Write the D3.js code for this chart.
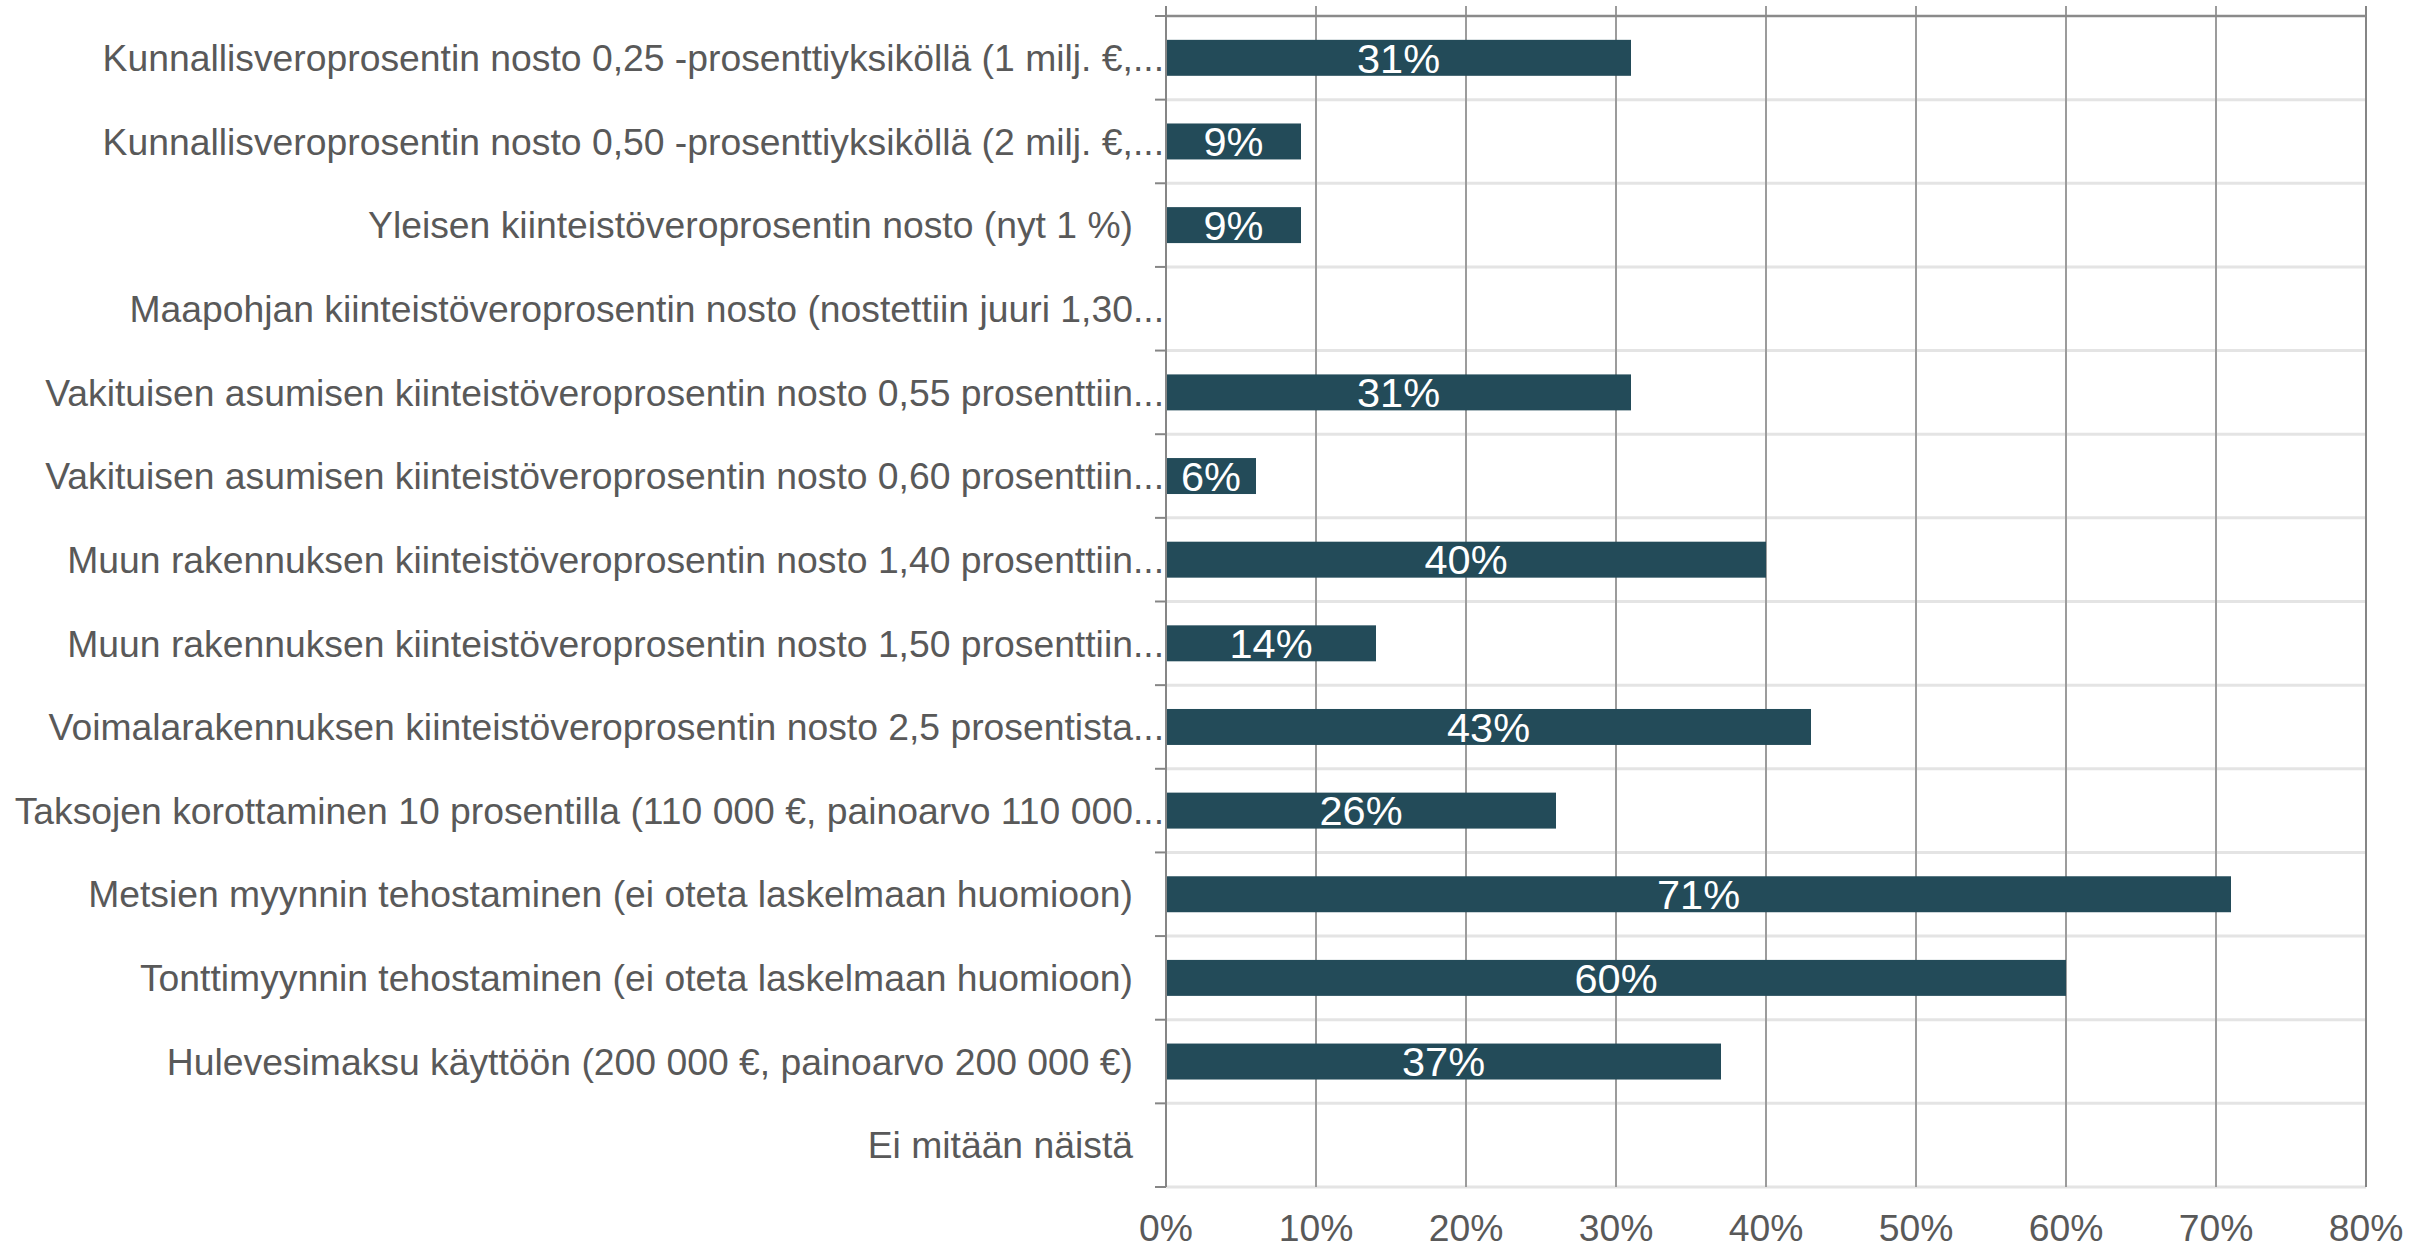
<!DOCTYPE html>
<html>
<head>
<meta charset="utf-8">
<script src="https://cdn.jsdelivr.net/npm/d3@7"></script>
<style>
  html, body { margin: 0; padding: 0; background: #ffffff; }
  svg { display: block; }
</style>
</head>
<body>
<script>
const categories = [
  "Kunnallisveroprosentin nosto 0,25 -prosenttiyksiköllä (1 milj. €,...",
  "Kunnallisveroprosentin nosto 0,50 -prosenttiyksiköllä (2 milj. €,...",
  "Yleisen kiinteistöveroprosentin nosto (nyt 1 %)",
  "Maapohjan kiinteistöveroprosentin nosto (nostettiin juuri 1,30...",
  "Vakituisen asumisen kiinteistöveroprosentin nosto 0,55 prosenttiin...",
  "Vakituisen asumisen kiinteistöveroprosentin nosto 0,60 prosenttiin...",
  "Muun rakennuksen kiinteistöveroprosentin nosto 1,40 prosenttiin...",
  "Muun rakennuksen kiinteistöveroprosentin nosto 1,50 prosenttiin...",
  "Voimalarakennuksen kiinteistöveroprosentin nosto 2,5 prosentista...",
  "Taksojen korottaminen 10 prosentilla (110 000 €, painoarvo 110 000...",
  "Metsien myynnin tehostaminen (ei oteta laskelmaan huomioon)",
  "Tonttimyynnin tehostaminen (ei oteta laskelmaan huomioon)",
  "Hulevesimaksu käyttöön (200 000 €, painoarvo 200 000 €)",
  "Ei mitään näistä"
];
const values = [31, 9, 9, 0, 31, 6, 40, 14, 43, 26, 71, 60, 37, 0];
const tickValues = [0, 10, 20, 30, 40, 50, 60, 70, 80];
const tickLabels = ["0%", "10%", "20%", "30%", "40%", "50%", "60%", "70%", "80%"];

const W = 2435, H = 1248;
const pL = 1166, pR = 2366, pT = 16, pB = 1187;
const FONT = "'Liberation Sans', Arial, sans-serif";
const TEXT = "#595959";

const svg = d3.select("body").append("svg")
  .attr("width", W).attr("height", H)
  .style("font-family", FONT);

const x = d3.scaleLinear().domain([0, 80]).range([pL, pR]);
const y = d3.scaleBand().domain(d3.range(categories.length))
  .range([pT, pB]).paddingInner(0.57).paddingOuter(0.285);
const step = y.step();

// horizontal light gridlines (category boundaries)
svg.append("g").selectAll("line")
  .data(d3.range(1, categories.length + 1))
  .join("line")
  .attr("x1", pL).attr("x2", pR)
  .attr("y1", i => pT + i * step).attr("y2", i => pT + i * step)
  .attr("stroke", "#e4e4e4").attr("stroke-width", 3);

// vertical gridlines
svg.append("g").selectAll("line")
  .data(tickValues.slice(1))
  .join("line")
  .attr("x1", d => x(d)).attr("x2", d => x(d))
  .attr("y1", pT - 10).attr("y2", pB)
  .attr("stroke", d => d === 80 ? "#868686" : "#9c9c9c").attr("stroke-width", 2);

// top line
svg.append("line")
  .attr("x1", pL).attr("x2", pR).attr("y1", pT).attr("y2", pT)
  .attr("stroke", "#8a8a8a").attr("stroke-width", 2.5);

// bars
svg.append("g").selectAll("rect")
  .data(values)
  .join("rect")
  .attr("x", x(0))
  .attr("y", (d, i) => y(i))
  .attr("width", d => x(d) - x(0))
  .attr("height", y.bandwidth())
  .attr("fill", "#234b59");

// category axis line and ticks
svg.append("line")
  .attr("x1", pL).attr("x2", pL).attr("y1", pT - 10).attr("y2", pB)
  .attr("stroke", "#868686").attr("stroke-width", 2);
svg.append("g").selectAll("line")
  .data(d3.range(0, categories.length + 1))
  .join("line")
  .attr("x1", pL - 11).attr("x2", pL)
  .attr("y1", i => pT + i * step).attr("y2", i => pT + i * step)
  .attr("stroke", "#868686").attr("stroke-width", 2);

// data labels
svg.append("g").selectAll("text")
  .data(values.map((v, i) => ({ v, i })).filter(d => d.v > 0))
  .join("text")
  .attr("x", d => (x(0) + x(d.v)) / 2)
  .attr("y", d => y(d.i) + y.bandwidth() / 2 + 41.5 * 0.355)
  .attr("text-anchor", "middle")
  .attr("fill", "#ffffff")
  .attr("font-size", 41.5)
  .text(d => d.v + "%");

// category labels
svg.append("g").selectAll("text")
  .data(categories)
  .join("text")
  .attr("x", d => d.endsWith("...") ? pL - 2 : pL - 33)
  .attr("y", (d, i) => y(i) + y.bandwidth() / 2 + 37.3 * 0.355)
  .attr("text-anchor", "end")
  .attr("fill", TEXT)
  .attr("font-size", 37.3)
  .text(d => d);

// x axis tick labels
svg.append("g").selectAll("text")
  .data(tickValues)
  .join("text")
  .attr("x", d => x(d))
  .attr("y", 1241)
  .attr("text-anchor", "middle")
  .attr("fill", TEXT)
  .attr("font-size", 37.3)
  .text((d, i) => tickLabels[i]);
</script>
</body>
</html>
